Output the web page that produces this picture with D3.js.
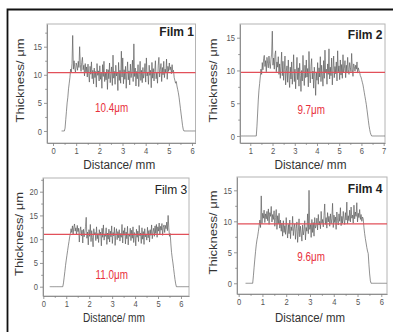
<!DOCTYPE html>
<html><head><meta charset="utf-8">
<script src="https://cdn.jsdelivr.net/npm/d3@7"></script>
<style>html,body{margin:0;padding:0;background:#fff;overflow:hidden}</style>
</head><body><svg id="c" width="393" height="332"></svg>
<script>
// ---------------- DATA ----------------
const filmNames = ["Film 1", "Film 2", "Film 3", "Film 4"];
const meanThickness = [10.4, 9.7, 11.0, 9.6];
const meanLabels = ["10.4\u03bcm", "9.7\u03bcm", "11.0\u03bcm", "9.6\u03bcm"];

const xTicksA = [0, 1, 2, 3, 4, 5, 6];
const xTicksB = [1, 2, 3, 4, 5, 6, 7];
const yTicksA = [0, 5, 10, 15];
const yTicksB = [0, 5, 10, 15, 20];

// sample positions: start + i*step (mm); values: thickness (um)
const film1Start = 0.37, film1Step = 0.03;
const film1Values = [
  0,0,0,0,0, 0.5,2,3.5,5,6,7.5,8.5,9.5,11,10.5,12,17,
  11,12.5,11.2,10.4,12.1,11.6,10.8,12.4,11.3,15.0,
  11.8,10.6,12.2,13.1,10.9,11.7,9.8,12.0,10.5,11.4,
  9.6,11.9,10.2,8.7,11.5,10.1,12.3,9.3,10.8,8.4,
  11.2,9.5,10.6,7.8,12.0,9.9,10.7,8.9,11.6,9.2,
  10.4,7.6,11.8,9.7,12.4,8.8,10.3,9.1,11.0,7.4,
  10.9,9.3,12.1,8.6,10.2,11.4,8.1,13.5,9.4,10.6,
  8.3,11.7,9.8,10.5,7.2,12.2,9.0,10.8,8.5,14.2,
  9.6,13.0,8.4,10.9,9.2,11.5,7.6,10.3,12.3,9.1,
  10.7,8.2,11.9,9.5,10.4,12.6,8.8,15.5,9.7,11.2,
  8.0,10.6,9.3,11.8,7.9,10.1,12.4,9.0,10.8,8.6,
  11.3,9.4,10.2,12.0,8.7,13.0,9.8,10.5,8.3,11.7,
  9.9,10.8,7.7,12.2,9.4,11.1,8.9,10.6,12.5,9.3,
  10.4,8.5,11.6,13.1,9.6,10.9,12.0,8.8,11.3,10.0,
  12.4,9.5,11.0,10.3,12.8,9.2,11.5,10.6,12.1,10.9,
  11.4,10.2,11.8,10.5,10.8,
  9.5,9.0,8.5,8.8,8.0,7.4,6.8,6.0,5.0,4.0,3.0,2.0,1.0,0.3,
  0,0,0,0,0,0,0,0,0,0,0,0,0,0,0,0,0,0
];

const film2Start = 0.55, film2Step = 0.03;
const film2Values = [
  0,0,0,0,0,0,0,0,0,0,0,0,0,0,0,0,0,0,0,0,0,0,0,0,0,
  1.5,3.5,5.5,7,8,9,10.2,9.4,
  11.2,10.1,11.8,12.3,10.6,11.5,9.8,12.0,11.1,10.4,
  12.2,11.0,10.3,11.7,12.5,16.0,10.8,11.9,10.2,12.4,
  13.0,9.8,11.3,10.5,12.1,9.4,11.0,8.8,10.6,12.8,
  9.2,11.4,8.5,10.1,12.2,7.8,9.9,10.7,8.2,11.6,
  9.0,7.4,10.5,8.7,11.3,7.9,9.6,12.4,8.3,10.2,
  7.2,9.8,12.0,8.6,10.4,7.6,11.1,9.2,6.8,10.0,
  8.4,12.3,9.5,7.7,10.8,8.9,11.6,9.0,10.3,7.5,
  12.9,9.4,8.1,10.6,11.8,8.7,9.9,7.3,10.5,9.1,
  6.2,9.7,8.5,11.2,7.9,10.4,9.0,12.1,8.3,10.8,
  9.3,7.6,11.5,8.8,13.1,9.6,10.2,7.9,11.0,9.4,
  13.3,8.7,10.5,9.2,11.9,7.8,10.1,12.2,8.9,10.6,
  9.5,11.3,8.4,13.0,9.8,10.7,8.6,11.6,9.3,10.9,
  8.8,12.4,9.7,10.3,11.5,8.9,10.8,9.6,12.0,10.1,
  9.4,11.2,10.5,9.8,12.6,10.2,9.1,11.0,10.6,9.9,
  10.8,10.2,11.3,9.6,10.4,10.0,9.7,
  9.2,9.0,8.6,8.2,7.8,7.2,6.6,6.0,5.4,4.8,4.0,3.2,2.4,1.6,1.0,0.5,0.2,
  0,0,0,0,0,0,0,0,0,0,0,0,0,0,0,0,0,0,0,0,0
];

const film3Start = 0.28, film3Step = 0.03;
const film3Values = [
  0,0,0,0,0,0,0,0,0,0,0,0,0,0,0,0,0,0,0,0,
  0.8,2.0,3.2,4.5,5.6,6.6,7.6,8.6,9.5,10.5,11.2,
  12.2,11.4,12.8,11.0,12.5,13.2,11.7,12.4,10.9,12.9,
  11.6,12.3,9.4,11.8,12.6,10.7,11.9,9.2,12.1,10.5,
  11.3,12.7,14.6,10.2,11.5,8.8,12.0,10.6,13.1,9.5,
  11.8,10.3,8.4,12.2,10.9,11.4,9.7,12.6,10.1,11.2,
  9.3,12.0,10.8,11.5,8.6,12.3,10.4,13.0,9.8,11.1,
  10.6,12.4,8.9,11.3,10.0,12.1,9.4,11.7,10.5,12.8,
  9.1,11.4,10.7,12.5,8.7,11.0,12.2,9.9,11.6,10.3,
  12.0,9.6,11.2,10.4,13.1,9.2,11.8,10.8,12.4,9.0,
  11.5,10.1,12.7,8.8,11.1,10.6,12.3,9.7,11.9,10.2,
  12.6,9.3,11.4,10.9,8.6,12.1,10.4,11.7,9.5,12.9,
  10.7,11.3,9.1,12.4,10.0,11.6,8.9,12.2,10.5,11.0,
  9.8,12.5,10.3,11.8,9.4,12.0,10.8,13.0,10.1,11.5,
  12.3,10.6,12.8,11.2,13.1,10.4,12.6,11.7,13.4,11.0,
  12.7,11.9,13.3,10.8,12.5,13.0,11.4,12.9,12.2,13.6,
  11.8,15.0,12.4,10.6,11.2,
  9.0,7.2,6.0,5.0,3.8,2.6,1.5,0.6,0,
  0,0,0,0,0,0,0,0,0,0,0,0,0,0,0,0,0,0
];

const film4Start = 0.29, film4Step = 0.03;
const film4Values = [
  0,0,0,0,0,0,0,0,0,0,0,
  1.2,2.6,3.9,5.1,6.2,7.0,7.6,8.4,9.2,
  10.2,9.0,14.1,9.6,11.3,10.5,11.8,9.8,11.2,10.4,
  11.6,10.1,12.0,9.5,11.4,10.8,12.4,9.9,11.1,10.3,
  11.7,9.2,10.6,11.9,8.7,10.9,9.6,11.3,8.9,10.2,
  8.4,9.7,7.6,10.1,8.2,9.3,7.9,10.6,8.6,7.3,
  9.5,8.0,10.2,7.2,9.1,8.5,10.8,7.7,8.9,9.6,
  7.1,8.8,9.9,6.6,8.3,10.4,7.5,9.2,8.1,6.8,
  9.4,7.8,8.6,10.1,7.0,9.0,8.4,11.2,8.0,15.0,
  8.7,9.5,7.4,10.3,8.2,9.8,7.6,10.6,8.9,9.3,
  10.5,8.6,11.1,9.4,10.0,8.8,11.6,9.7,10.3,9.1,
  10.9,12.8,9.5,10.6,8.9,11.4,9.9,10.8,9.2,11.2,
  9.6,10.4,12.9,9.0,11.0,9.8,10.7,8.7,11.5,10.1,
  9.4,11.2,10.0,12.2,9.3,10.8,9.7,11.6,10.3,9.5,
  11.4,10.2,13.1,9.6,10.9,10.1,11.8,9.9,12.3,10.5,
  11.0,9.7,12.6,10.4,11.5,10.8,13.0,9.9,11.3,10.6,
  11.9,10.3,11.1,10.0,10.7,10.4,
  9.0,8.0,7.2,6.5,5.8,5.2,4.8,3.0,1.5,0.4,0,
  0,0,0,0,0,0,0,0,0,0,0,0,0,0,0,0,0,0,0,0,0,0
];

const films = [
  { start: film1Start, step: film1Step, values: film1Values },
  { start: film2Start, step: film2Step, values: film2Values },
  { start: film3Start, step: film3Step, values: film3Values },
  { start: film4Start, step: film4Step, values: film4Values }
];

// ---------------- LAYOUT ----------------
const panels = [
  { box: [47, 195.5, 24, 143], xDom: [-0.259, 6.15], yDom: [-2.14, 19.04], xt: xTicksA, yt: yTicksA,
    ylabX: 20, xlabY: 164.5, xlabW: 72, nameDx: -1.5, nameY: 36, nameBold: true, lab: [2.53, 4.1] },
  { box: [240, 385, 24, 143], xDom: [0.537, 7.06], yDom: [-1.07, 17.09], xt: xTicksB, yt: yTicksA,
    ylabX: 213, xlabY: 164.5, xlabW: 72, nameDx: -2.5, nameY: 39.3, nameBold: true, lab: [3.74, 3.97] },
  { box: [43, 189, 178, 296], xDom: [-0.013, 6.35], yDom: [-1.96, 22.88], xt: xTicksA, yt: yTicksB,
    ylabX: 19, xlabY: 318, xlabW: 62, nameDx: -1.7, nameY: 194.3, nameBold: false, lab: [2.98, 2.61] },
  { box: [237, 387, 177, 294], xDom: [-0.07, 6.24], yDom: [-1.73, 17.15], xt: xTicksA, yt: yTicksA,
    ylabX: 213.5, xlabY: 318, xlabW: 70, nameDx: -4.5, nameY: 193.3, nameBold: true, lab: [3.05, 4.4] }
];

const FONT = "'Liberation Sans', Arial, Helvetica, sans-serif";
const svg = d3.select("#c");
svg.append("rect").attr("width", 393).attr("height", 332).attr("fill", "#fff");
// outer frame
svg.append("path").attr("d", "M7.5,340 V9.5 H400").attr("fill", "none").attr("stroke", "#111").attr("stroke-width", 1.8);

function addText(parent, x, y, str, o) {
  let tr = `translate(${x},${y}) scale(${o.sx || 1},1)`;
  if (o.rot) tr += ` rotate(${o.rot})`;
  const g = parent.append("g").attr("transform", tr);
  const t = g.append("text")
    .attr("text-anchor", o.anchor || "middle")
    .attr("dominant-baseline", o.base || "auto")
    .style("font-family", FONT)
    .style("font-size", o.size + "px")
    .style("font-weight", o.weight || "normal")
    .attr("fill", o.fill || "#333")
    .text(str);
  if (o.len) t.attr("textLength", o.len).attr("lengthAdjust", "spacingAndGlyphs");
  return t;
}

panels.forEach((p, i) => {
  const [L, R, T, B] = p.box;
  const x = d3.scaleLinear().domain(p.xDom).range([L, R]);
  const y = d3.scaleLinear().domain(p.yDom).range([B, T]);
  const g = svg.append("g");

  // box
  g.append("rect").attr("x", L).attr("y", T).attr("width", R - L).attr("height", B - T)
    .attr("fill", "#fff").attr("stroke", "#b4b4b4").attr("stroke-width", 1);

  // clip
  const cid = "clip" + i;
  svg.append("clipPath").attr("id", cid).append("rect")
    .attr("x", L).attr("y", T).attr("width", R - L).attr("height", B - T);

  // data line
  const f = films[i];
  const line = d3.line().x((d, k) => x(f.start + k * f.step)).y(d => y(d));
  g.append("path").datum(f.values).attr("d", line).attr("clip-path", `url(#${cid})`)
    .attr("fill", "none").attr("stroke", "#555").attr("stroke-width", 0.65).attr("stroke-linejoin", "round");

  // mean line
  g.append("line").attr("x1", L).attr("x2", R).attr("y1", y(meanThickness[i])).attr("y2", y(meanThickness[i]))
    .attr("stroke", "#e2505a").attr("stroke-width", 1.2);

  // axes
  const minorX = d3.range(Math.ceil(p.xDom[0] * 2) / 2, p.xDom[1], 0.5).filter(v => !p.xt.includes(v));
  const minorY = d3.range(Math.ceil(p.yDom[0] / 2.5) * 2.5, p.yDom[1], 2.5).filter(v => !p.yt.includes(v));

  const ax = g.append("g").attr("transform", `translate(0,${B})`)
    .call(d3.axisBottom(x).tickValues(p.xt).tickSize(3).tickSizeOuter(0).tickPadding(1.5).tickFormat(d3.format("d")));
  const axm = g.append("g").attr("transform", `translate(0,${B})`)
    .call(d3.axisBottom(x).tickValues(minorX).tickSize(1.8).tickSizeOuter(0).tickFormat(""));
  const ay = g.append("g").attr("transform", `translate(${L},0)`)
    .call(d3.axisLeft(y).tickValues(p.yt).tickSize(3).tickSizeOuter(0).tickPadding(3).tickFormat(d3.format("d")));
  const aym = g.append("g").attr("transform", `translate(${L},0)`)
    .call(d3.axisLeft(y).tickValues(minorY).tickSize(1.8).tickSizeOuter(0).tickFormat(""));
  [ax, axm, ay, aym].forEach(a => {
    a.select(".domain").attr("stroke", "#909090").attr("stroke-width", 1);
    a.selectAll(".tick line").attr("stroke", "#808080").attr("stroke-width", 0.8);
  });
  [axm, aym].forEach(a => a.select(".domain").remove());
  ax.selectAll(".tick text").style("font-family", FONT).style("font-size", "9.5px").attr("fill", "#555")
    .attr("transform", "scale(0.8,1)");
  ay.selectAll(".tick text").style("font-family", FONT).style("font-size", "9.5px").attr("fill", "#555")
    .attr("transform", "scale(0.8,1)").attr("x", -5 / 0.8);

  // axis titles
  addText(g, (L + R) / 2 - 2, p.xlabY, "Distance/ mm", { size: 12, fill: "#333", base: "central", len: p.xlabW });
  addText(g, p.ylabX, (T + B) / 2 - 3, "Thickness/ \u03bcm", { size: 13, fill: "#333", rot: -90, base: "central", sx: 0.8 });

  // film name
  addText(g, R + p.nameDx, p.nameY, filmNames[i], { size: 12, fill: "#222", anchor: "end", weight: p.nameBold ? "bold" : "normal" });

  // mean label
  addText(g, x(p.lab[0]), y(p.lab[1]), meanLabels[i], { size: 13, fill: "#e8303c", base: "central", sx: 0.76 });
});
</script>
</body></html>
